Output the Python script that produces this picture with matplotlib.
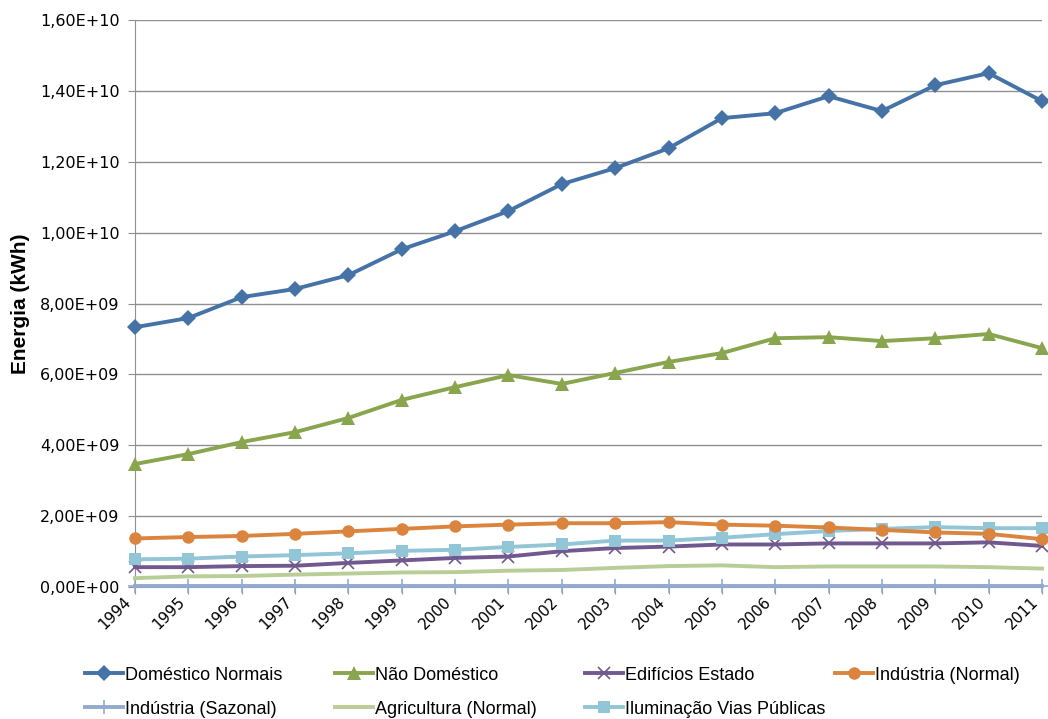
import matplotlib
matplotlib.use("Agg")
import matplotlib.pyplot as plt
import matplotlib.transforms as mtransforms
from matplotlib.ticker import FuncFormatter

years = list(range(1994, 2012))

domestico = [7.33e9, 7.59e9, 8.18e9, 8.41e9, 8.80e9, 9.53e9, 10.04e9, 10.61e9, 11.37e9,
             11.82e9, 12.38e9, 13.23e9, 13.37e9, 13.85e9, 13.43e9, 14.16e9, 14.50e9, 13.71e9]
nao_domestico = [3.47e9, 3.75e9, 4.09e9, 4.37e9, 4.77e9, 5.28e9, 5.64e9, 5.98e9, 5.73e9,
                 6.04e9, 6.35e9, 6.60e9, 7.02e9, 7.05e9, 6.94e9, 7.02e9, 7.14e9, 6.74e9]
edificios = [0.56e9, 0.56e9, 0.59e9, 0.60e9, 0.68e9, 0.75e9, 0.82e9, 0.86e9, 1.01e9,
             1.10e9, 1.14e9, 1.20e9, 1.20e9, 1.23e9, 1.23e9, 1.23e9, 1.26e9, 1.16e9]
industria_normal = [1.37e9, 1.41e9, 1.44e9, 1.50e9, 1.57e9, 1.64e9, 1.71e9, 1.76e9, 1.80e9,
                    1.80e9, 1.83e9, 1.76e9, 1.73e9, 1.68e9, 1.61e9, 1.54e9, 1.50e9, 1.35e9]
industria_sazonal = [0.02e9] * 18
agricultura = [0.25e9, 0.30e9, 0.31e9, 0.35e9, 0.38e9, 0.41e9, 0.42e9, 0.46e9, 0.48e9,
               0.54e9, 0.59e9, 0.61e9, 0.56e9, 0.58e9, 0.58e9, 0.58e9, 0.56e9, 0.52e9]
iluminacao = [0.78e9, 0.80e9, 0.86e9, 0.90e9, 0.95e9, 1.02e9, 1.05e9, 1.13e9, 1.20e9,
              1.31e9, 1.31e9, 1.39e9, 1.49e9, 1.58e9, 1.64e9, 1.69e9, 1.66e9, 1.66e9]

labels = ["Doméstico Normais", "Não Doméstico", "Edifícios Estado", "Indústria (Normal)",
          "Indústria (Sazonal)", "Agricultura (Normal)", "Iluminação Vias Públicas"]
yticks = [0, 2e9, 4e9, 6e9, 8e9, 10e9, 12e9, 14e9, 16e9]

plt.rcParams['font.family'] = ['DejaVu Sans']

fig = plt.figure(figsize=(10.48, 7.19), dpi=100)
ax = fig.add_axes([135/1048, 1-587/719, (1042-135)/1048, (587-20)/719])

series = [
    (domestico, '#4572A7', 'D', 8.5, 0),
    (nao_domestico, '#89A54E', '^', 9.5, 0),
    (edificios, '#71588F', 'x', 8, 1.2),
    (industria_normal, '#DB843D', 'o', 9, 0),
    (industria_sazonal, '#93A9CF', '+', 10, 1.2),
    (agricultura, '#B9CD96', None, 0, 0),
    (iluminacao, '#92C5D5', 's', 8.5, 0),
]
order = [4, 5, 2, 6, 3, 1, 0]
handles = [None]*7
for i in range(7):
    vals, col, mk, ms, mew = series[i]
    kw = dict(color=col, lw=2.8, clip_on=False, label=labels[i], zorder=3+order.index(i))
    if mk:
        kw.update(marker=mk, markersize=ms)
        if mk in ('x', '+'):
            kw.update(markeredgewidth=mew)
        else:
            kw.update(markeredgewidth=0)
    h, = ax.plot(years, vals, **kw)
    handles[i] = h

ax.set_xlim(1994, 2011)
ax.set_ylim(0, 1.6e10)
ax.set_yticks(yticks)
ax.yaxis.set_major_formatter(FuncFormatter(lambda v, p: f"{v:.2E}".replace('.', ',')))
ax.grid(axis='y', color='#909090', lw=1.0)
ax.set_axisbelow(True)
for s in ['top', 'right']:
    ax.spines[s].set_visible(False)
ax.spines['left'].set_color('#909090')
ax.spines['bottom'].set_color('#909090')
ax.tick_params(axis='y', length=5, color='#909090', labelsize=11.5, pad=6)
ax.tick_params(axis='x', length=5, color='#909090', labelsize=11, pad=4)
ax.set_xticks(years)
ax.set_xticklabels([str(y) for y in years], rotation=45, ha='right', va='center',
                   rotation_mode='anchor')
shift = mtransforms.ScaledTranslation(-6/100, 0, fig.dpi_scale_trans)
for t in ax.get_xticklabels():
    t.set_transform(t.get_transform() + shift)
ax.set_ylabel("Energia (kWh)", fontsize=15, fontweight='bold',
              family=['Liberation Sans', 'DejaVu Sans'])
ax.yaxis.set_label_coords((30 - 135) / 907, 0.5)

# legend laid out like the reference: 4 equal-width columns, row-major
col_x = [85, 335, 585, 835]
row_y = [675, 709]
for i, h in enumerate(handles):
    r, c = divmod(i, 4)
    fig.legend(handles=[h], labels=[labels[i]], loc='center left',
               bbox_to_anchor=(col_x[c] / 1048, 1 - row_y[r] / 719),
               frameon=False, handlelength=2.1, handletextpad=0.1,
               borderpad=0, borderaxespad=0,
               prop={'family': ['Liberation Sans', 'DejaVu Sans'], 'size': 13})

fig.savefig("out.png", dpi=100)
